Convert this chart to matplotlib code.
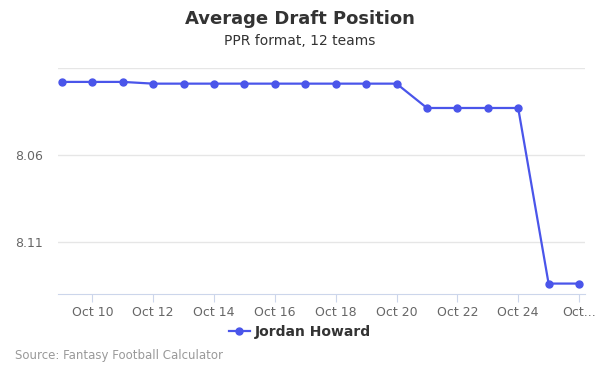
import matplotlib.pyplot as plt
import matplotlib.dates as mdates
import numpy as np
import datetime as dt

days = list(range(9, 27))
dates = [dt.date(2019, 10, d) for d in days]
adp = [8.018, 8.018, 8.018, 8.019, 8.019, 8.019, 8.019, 8.019, 8.019,
       8.019, 8.019, 8.019, 8.033, 8.033, 8.033, 8.033, 8.134, 8.134]
yticks = [8.01, 8.06, 8.11]
ylabels = ["", "8.06", "8.11"]
tick_days = [10, 12, 14, 16, 18, 20, 22, 24, 26]
tick_labels = ["Oct 10", "Oct 12", "Oct 14", "Oct 16", "Oct 18",
               "Oct 20", "Oct 22", "Oct 24", "Oct..."]

line_color = "#4a55ea"

fig = plt.figure(figsize=(6, 3.75), dpi=100)
ax = fig.add_axes([58/600, 1-294/375, (585-58)/600, (294-68)/375])

x = mdates.date2num(dates)
ax.plot(x, adp, color=line_color, lw=1.6, marker="o", ms=5,
        label="Jordan Howard", zorder=3)

ax.set_ylim(8.14, 8.01)
ax.set_yticks(yticks)
ax.set_yticklabels(ylabels)
x0 = mdates.date2num(dt.date(2019, 10, 9))
ax.set_xlim(x0 - 4/30.4, x0 + 17 + 6/30.4)
tx = [mdates.date2num(dt.date(2019, 10, d)) for d in tick_days]
ax.set_xticks(tx)
ax.set_xticklabels(tick_labels)

ax.grid(axis="y", color="#e6e6e6", lw=1)
ax.set_axisbelow(True)
for s in ["top", "right", "left"]:
    ax.spines[s].set_visible(False)
ax.spines["bottom"].set_color("#ccd6eb")
ax.tick_params(axis="y", length=0, labelsize=9, colors="#666666", pad=11)
ax.tick_params(axis="x", length=6, color="#ccd6eb", labelsize=9,
               labelcolor="#666666", pad=3)

fig.text(0.5, 1-19/375, "Average Draft Position", ha="center", va="center",
         fontsize=13, fontweight="bold", color="#333333")
fig.text(0.5, 1-41/375, "PPR format, 12 teams", ha="center", va="center",
         fontsize=10, color="#333333")

leg = fig.legend(loc="center", bbox_to_anchor=(0.5, 1-332/375), frameon=False,
                 fontsize=10, handlelength=1.5, handletextpad=0.4)
for t in leg.get_texts():
    t.set_fontweight("bold")
    t.set_color("#333333")

fig.text(15/600, 1-356/375, "Source: Fantasy Football Calculator", ha="left",
         va="center", fontsize=8.5, color="#999999")

fig.savefig("out.png", dpi=100)
